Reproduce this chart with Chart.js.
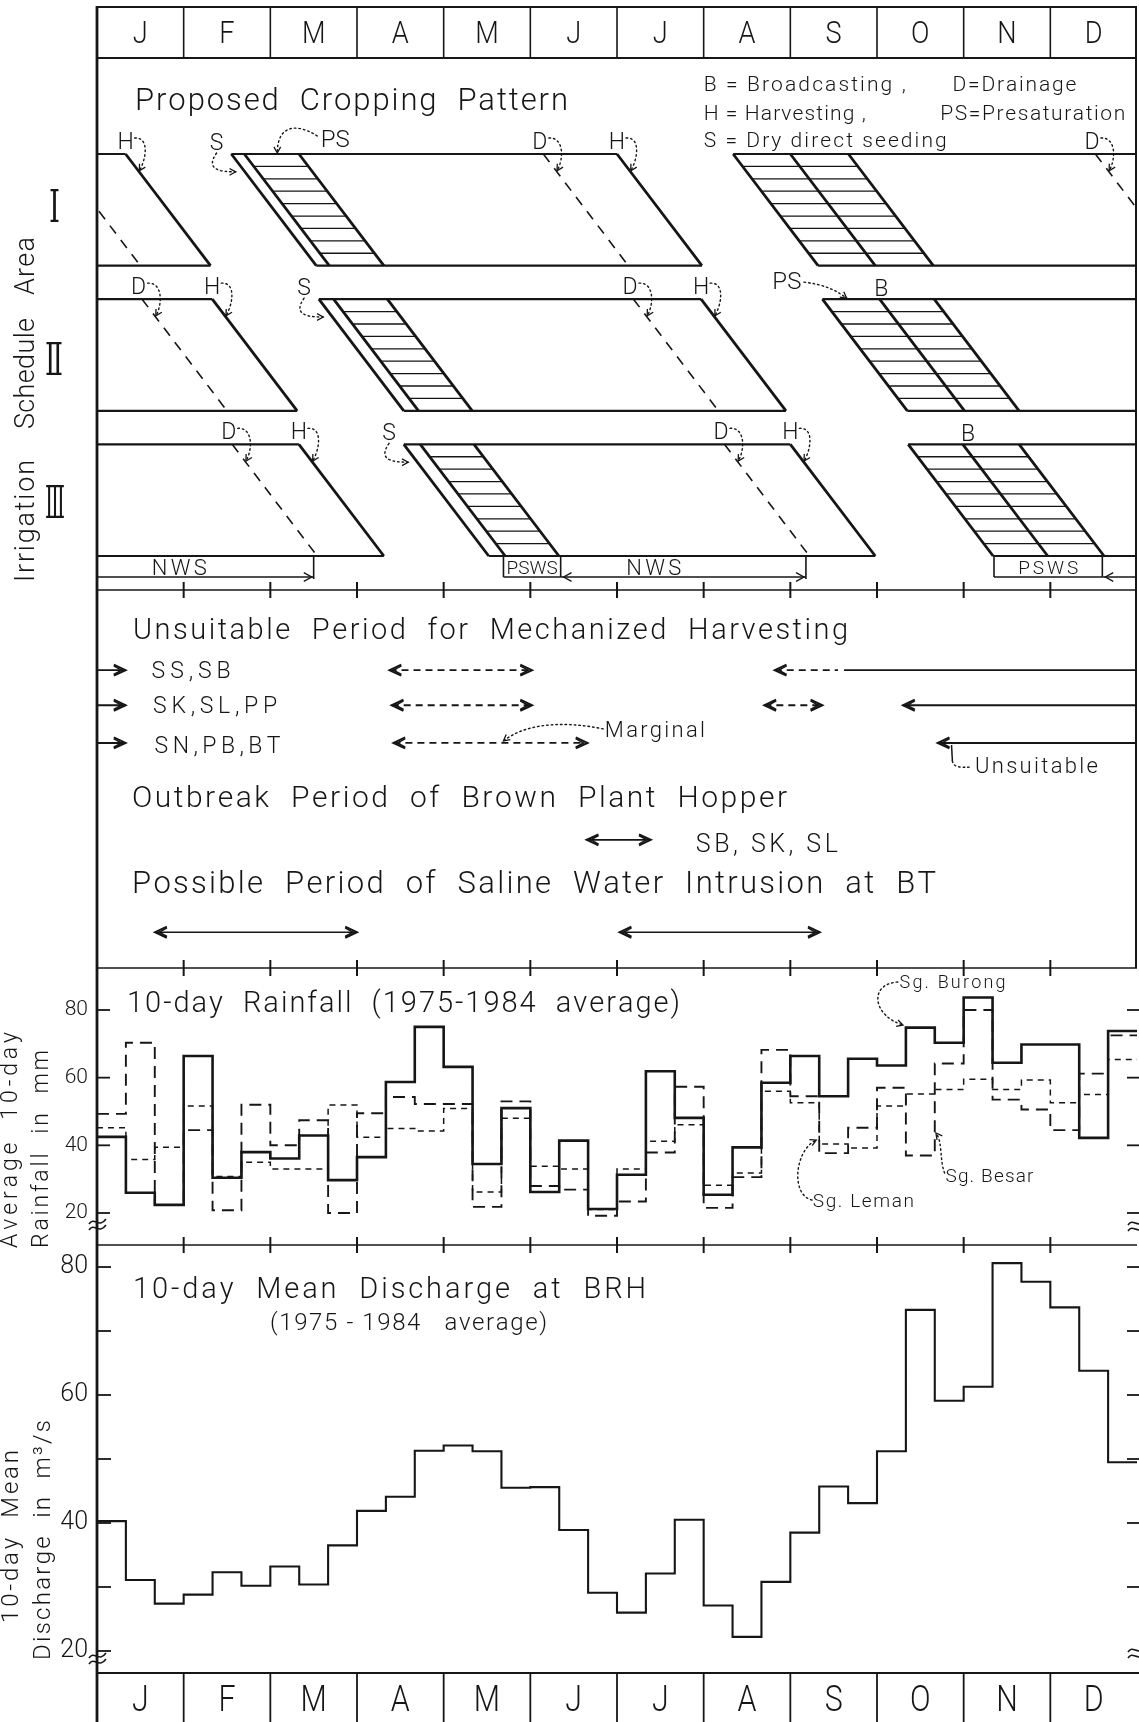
<!DOCTYPE html>
<html>
<head>
<meta charset="utf-8">
<title>Proposed Cropping Pattern, 10-day Rainfall and Discharge</title>
<script src="https://cdn.jsdelivr.net/npm/chart.js@4.4.1/dist/chart.umd.min.js"></script>
<style>
  html, body { margin: 0; padding: 0; background: #ffffff; }
  #page { position: relative; width: 1139px; height: 1722px; overflow: hidden; background: #ffffff; }
  #page canvas { position: absolute; left: 0; top: 0; }
</style>
</head>
<body>
<div id="page">
  <canvas id="cropCanvas" width="1139" height="1722"></canvas>
  <canvas id="textCanvas" width="1139" height="1722"></canvas>
  <canvas id="rainCanvas" width="1139" height="1722"></canvas>
  <canvas id="dischargeCanvas" width="1139" height="1722"></canvas>
</div>
<script>
// ================= DATA =================
const monthLabels = ['J','F','M','A','M','J','J','A','S','O','N','D'];

// 10-day rainfall, 1975-1984 average (mm), 36 ten-day periods
const rainBurong = [42.5, 26.0, 22.4, 66.4, 30.4, 38.0, 36.1, 42.9, 29.7, 36.5, 58.7, 75.0,
                    63.2, 34.5, 51.0, 26.2, 41.4, 21.2, 31.3, 61.9, 48.1, 25.4, 39.4, 58.5,
                    66.4, 54.5, 65.6, 63.6, 74.8, 70.3, 83.7, 64.4, 69.8, 69.8, 42.2, 73.8];
const rainBesar  = [49.3, 70.3, 22.4, 44.5, 20.8, 52.0, 40.0, 47.4, 20.0, 49.5, 54.3, 52.2,
                    52.2, 21.8, 53.0, 28.0, 26.9, 19.2, 23.4, 37.9, 57.3, 21.5, 30.6, 68.2,
                    54.5, 37.7, 45.2, 57.0, 37.0, 64.2, 80.0, 53.5, 50.6, 44.5, 61.2, 72.5];
const rainLeman  = [45.2, 35.8, 39.4, 51.6, 30.8, 35.0, 33.0, 33.0, 51.9, 42.4, 45.0, 44.2,
                    50.9, 26.2, 48.0, 33.8, 33.0, 21.0, 33.0, 41.2, 46.1, 28.2, 31.8, 56.0,
                    52.6, 40.4, 39.2, 51.6, 55.2, 56.5, 59.5, 56.5, 59.3, 52.6, 55.0, 65.4];
// 10-day mean discharge at BRH (m3/s)
const discharge  = [40.3, 31.1, 27.4, 28.8, 32.3, 30.2, 33.2, 30.4, 36.5, 41.9, 44.1, 51.3,
                    52.1, 51.2, 45.5, 45.6, 38.9, 29.1, 26.0, 32.1, 40.5, 27.1, 22.2, 30.8,
                    38.5, 45.7, 43.1, 51.2, 73.3, 59.1, 61.3, 80.6, 77.7, 73.7, 63.8, 49.5];
const rainTicks = [20, 40, 60, 80];
const dischargeTicks = [20, 30, 40, 50, 60, 70, 80];
const dischargeTickLabels = ['20', '', '40', '', '60', '', '80'];

// Proposed cropping pattern (month positions on the top edge of each band)
const cropArea      = ['I', 'I', 'II', 'II', 'III', 'III'];
const cropSeason    = [1, 2, 1, 2, 1, 2];
const cropSeeding   = [1.55, 7.34, 2.56, 8.37, 3.54, 9.36];
const cropSecond    = [1.70, 8.00, 2.73, 9.03, 3.73, 9.99];
const cropHatchFrom = [1.70, 7.34, 2.73, 8.37, 3.73, 9.36];
const cropHatchTo   = [2.33, 8.67, 3.35, 9.66, 4.35, 10.64];
const cropDrainage  = [5.15, 11.52, 6.19, 12.52, 7.24, 13.56];
const cropHarvest   = [6.00, 12.33, 6.97, 13.33, 8.00, 14.33];
const cropNotes = [
  {text: 'PS', crop: 0, at: 2.75, to: 2.08},
  {text: 'PS', crop: 3, at: 7.96, to: 8.65},
  {text: 'B',  crop: 3, at: 9.05},
  {text: 'B',  crop: 5, at: 10.05}
];
const supplyKind = ['NWS', 'PSWS', 'NWS', 'PSWS', 'NWS'];
const supplyFrom = [-0.40, 4.69, 5.35, 10.35, 11.60];
const supplyTo   = [ 2.50, 5.35, 8.18, 11.60, 14.00];

// Unsuitable period for mechanized harvesting
const harvestStations = ['SS,SB', 'SK,SL,PP', 'SN,PB,BT'];
const periodStation = [0, 0, 0, 0, 1, 1, 1, 1, 2, 2, 2];
const periodFrom  = [0.00, 3.375, 7.82, 8.62, 0.00, 3.40, 7.70, 9.30, 0.00, 3.42, 9.70];
const periodTo    = [0.33, 5.02, 8.55, 12.5, 0.33, 5.02, 8.37, 12.5, 0.33, 5.66, 12.5];
const periodKind  = ['U', 'M', 'M', 'U', 'U', 'M', 'M', 'U', 'U', 'M', 'U'];
const periodHeads = ['R', 'B', 'L', '', 'R', 'B', 'B', 'L', 'R', 'B', 'L'];
const hopperFrom = [5.65], hopperTo = [6.39];
const salineFrom = [0.67, 6.03], salineTo = [3.00, 8.34];

// ================= LAYOUT / STYLE =================
const W = 1139, H = 1722;
const PLOT_L = 97, PLOT_R = 1137;
const INK = '#161616';
const FONT = 'Roboto, Lato, "Liberation Sans", "DejaVu Sans", sans-serif';
const SLANT = 0.98;
const ROW_TOP = {I: 0, II: 1.3, III: 2.6};
const STATION_LEVEL = [2.10, 3.03, 4.03];
const HOPPER_LEVEL = 6.6, SALINE_LEVEL = 9.05;

// ================= HELPERS =================
function drawText(ctx, s, x, y, size, o = {}) {
  ctx.save();
  ctx.font = `${o.weight || 300} ${size}px ${o.family || FONT}`;
  ctx.fillStyle = INK;
  ctx.textBaseline = 'alphabetic';
  ctx.textAlign = 'left';
  const chars = Array.from(s);
  const ws = chars.map(c => ctx.measureText(c).width);
  const nat = ws.reduce((a, b) => a + b, 0);
  let sx = o.sx || 1, gap = 0;
  if (o.width) {
    if (nat * sx <= o.width && chars.length > 1) gap = (o.width - nat * sx) / (chars.length - 1);
    else sx = o.width / nat;
  }
  const total = nat * sx + gap * (chars.length - 1);
  let cx = x;
  if (o.align === 'center') cx -= total / 2;
  if (o.align === 'right') cx -= total;
  chars.forEach((c, i) => {
    ctx.save(); ctx.translate(cx, y); ctx.scale(sx, 1); ctx.fillText(c, 0, 0); ctx.restore();
    cx += ws[i] * sx + gap;
  });
  ctx.restore();
}
function drawRotText(ctx, s, x, yBottom, size, o) {
  ctx.save(); ctx.translate(x, yBottom); ctx.rotate(-Math.PI / 2);
  drawText(ctx, s, 0, 0, size, o); ctx.restore();
}
function seg(ctx, x1, y1, x2, y2, w = 2, dash = []) {
  ctx.save(); ctx.strokeStyle = INK; ctx.lineWidth = w; ctx.setLineDash(dash);
  ctx.beginPath(); ctx.moveTo(x1, y1); ctx.lineTo(x2, y2); ctx.stroke(); ctx.restore();
}
function head(ctx, x, y, ang, len = 12, spread = 0.42, w = 1.9) {
  ctx.save(); ctx.strokeStyle = INK; ctx.lineWidth = w; ctx.setLineDash([]);
  ctx.beginPath();
  ctx.moveTo(x - len * Math.cos(ang - spread), y - len * Math.sin(ang - spread));
  ctx.lineTo(x, y);
  ctx.lineTo(x - len * Math.cos(ang + spread), y - len * Math.sin(ang + spread));
  ctx.stroke(); ctx.restore();
}
function bigHead(ctx, x, y, ang) {
  head(ctx, x, y, ang, 13, 0.44, 2);
  head(ctx, x - 4 * Math.cos(ang), y - 4 * Math.sin(ang), ang, 9, 0.5, 1.6);
}
function dotted(ctx, p, withHead = true, w = 1.4) {
  ctx.save(); ctx.strokeStyle = INK; ctx.lineWidth = w; ctx.setLineDash([1.6, 3]); ctx.lineCap = 'round';
  ctx.beginPath(); ctx.moveTo(p[0], p[1]); ctx.bezierCurveTo(p[2], p[3], p[4], p[5], p[6], p[7]); ctx.stroke();
  ctx.restore();
  if (withHead) head(ctx, p[6], p[7], Math.atan2(p[7] - p[5], p[6] - p[4]), 7, 0.5, 1.3);
}
function monthSep(ctx, xs, y, tick = 8) {
  seg(ctx, PLOT_L, y, PLOT_R, y, 1.6);
  for (let m = 1; m < 12; m++) seg(ctx, xs(m), y - tick, xs(m), y + tick, 2);
}
function breakMark(ctx, x, y) {
  ctx.save(); ctx.strokeStyle = INK; ctx.lineWidth = 1.6;
  for (const d of [0, 6]) {
    ctx.beginPath(); ctx.moveTo(x, y + d + 3);
    ctx.bezierCurveTo(x + 5, y + d - 5, x + 10, y + d + 8, x + 17, y + d - 2);
    ctx.stroke();
  }
  ctx.restore();
}
function gapData(segs) {
  const d = [];
  segs.forEach(s => { d.push({x: s[0], y: s[1]}, {x: s[2], y: s[3]}, {x: s[2], y: null}); });
  return d;
}
function lineDs(label, segs, w, dash = []) {
  return {label, data: gapData(segs), borderColor: INK, borderWidth: w, borderDash: dash,
          pointRadius: 0, fill: false, spanGaps: false, tension: 0, borderCapStyle: 'butt'};
}
const stepData = vals => vals.map((v, i) => ({x: i / 3, y: v})).concat([{x: 12, y: vals[vals.length - 1]}]);
const baseOpts = {responsive: false, animation: false, devicePixelRatio: 1, events: [],
                  plugins: {legend: {display: false}, tooltip: {enabled: false}}};

// ================= CROPPING PATTERN =================
const thick = [], edges = [], hatch = [], drain = [];
cropArea.forEach((a, i) => {
  const t = ROW_TOP[a], b = t + 1;
  const shifts = cropHarvest[i] > 12 ? [0, -12] : [0];
  shifts.forEach(s => {
    [cropSeeding[i], cropSecond[i], cropHatchTo[i], cropHarvest[i]].forEach(x => thick.push([x + s, t, x + s + SLANT, b]));
    edges.push([cropSeeding[i] + s, t, cropHarvest[i] + s, t]);
    edges.push([cropSeeding[i] + s + SLANT, b, cropHarvest[i] + s + SLANT, b]);
    drain.push([cropDrainage[i] + s, t, cropDrainage[i] + s + SLANT, b]);
    for (let k = 1; k <= 8; k++) {
      const f = k / 9;
      hatch.push([cropHatchFrom[i] + s + f * SLANT, t + f, cropHatchTo[i] + s + f * SLANT, t + f]);
    }
  });
});

const cropDecor = {
  id: 'cropDecor',
  afterDraw(chart) {
    const ctx = chart.ctx;
    const xs = v => chart.scales.x.getPixelForValue(v), ys = v => chart.scales.y.getPixelForValue(v);
    // frame
    seg(ctx, PLOT_L, 6, PLOT_L, H, 2.8);
    seg(ctx, 1136, 6, 1136, 968, 2);
    // header month row
    seg(ctx, PLOT_L, 7, PLOT_R, 7, 1.8);
    seg(ctx, PLOT_L, 58, PLOT_R, 58, 2);
    for (let m = 1; m < 12; m++) seg(ctx, xs(m), 7, xs(m), 58, 1.6);
    monthLabels.forEach((l, i) => drawText(ctx, l, xs(i + 0.5), 43, 32, {align: 'center', sx: 0.85}));
    // titles / legend
    drawText(ctx, 'Proposed  Cropping  Pattern', 135, 110, 31, {width: 433});
    drawText(ctx, 'B = Broadcasting ,', xs(7.0), 91, 21, {width: 202});
    drawText(ctx, 'D=Drainage', xs(9.87), 91, 21, {width: 124});
    drawText(ctx, 'H = Harvesting ,', xs(7.0), 120, 21, {width: 162});
    drawText(ctx, 'PS=Presaturation', xs(9.73), 120, 21, {width: 185});
    drawText(ctx, 'S = Dry direct seeding', xs(7.0), 147, 21, {width: 243});
    // rotated axis label and area numerals
    drawRotText(ctx, 'Irrigation', 34, 582, 27, {width: 122});
    drawRotText(ctx, 'Schedule', 34, 429, 27, {width: 111});
    drawRotText(ctx, 'Area', 34, 295, 27, {width: 58});
    const rom = {I: 'Ⅰ', II: 'Ⅱ', III: 'Ⅲ'};
    const romFam = '"DejaVu Serif", "DejaVu Sans", "Noto Sans CJK JP", serif';
    drawText(ctx, rom.I, 54.5, 222, 44, {align: 'center', width: 11, family: romFam, weight: 400});
    drawText(ctx, rom.II, 54, 375, 44, {align: 'center', width: 18, family: romFam, weight: 400});
    drawText(ctx, rom.III, 55, 518, 44, {align: 'center', width: 20, family: romFam, weight: 400});
    // D / H / S labels with dotted pointers
    const wrap = x => (x > 12 ? x - 12 : x);
    cropArea.forEach((a, i) => {
      const t = ROW_TOP[a], topPx = ys(t);
      const lab = (txt, x, lineX) => {
        const cx = xs(x), base = topPx - 5;
        drawText(ctx, txt, cx, base, 23, {align: 'center'});
        const ex = xs(lineX + 0.15 * SLANT), ey = ys(t + 0.15);
        dotted(ctx, [cx + 9, base - 11, cx + 24, base - 12, ex + 8, ey - 12, ex + 1, ey]);
      };
      const d = wrap(cropDrainage[i]), h = wrap(cropHarvest[i]);
      lab('D', d - 0.04, d);
      lab('H', h, h);
      if (cropSeason[i] === 1) {
        const cx = xs(cropSeeding[i] - 0.17), base = topPx - 4;
        drawText(ctx, 'S', cx, base, 23, {align: 'center'});
        const ex = xs(cropSeeding[i] + 0.05), ey = ys(t + 0.16);
        dotted(ctx, [cx, base + 3, cx - 12, topPx + 16, cx + 4, ey, ex, ey]);
      }
    });
    cropNotes.forEach(n => {
      const t = ROW_TOP[cropArea[n.crop]], topPx = ys(t);
      if (n.text === 'B') {
        drawText(ctx, 'B', xs(n.at), topPx - 3, 23, {align: 'center'});
      } else if (n.to < n.at) {
        drawText(ctx, 'PS', xs(n.at), topPx - 7, 24, {align: 'center'});
        dotted(ctx, [xs(n.at) - 18, topPx - 18, xs(n.at) - 40, topPx - 32, xs(n.to), topPx - 28, xs(n.to), topPx - 1]);
      } else {
        drawText(ctx, 'PS', xs(n.at), topPx - 10, 24, {align: 'center'});
        dotted(ctx, [xs(n.at) + 17, topPx - 17, xs(n.at) + 35, topPx - 15, xs(n.to) - 12, topPx - 10, xs(n.to), topPx - 1]);
      }
    });
    // water supply brackets
    const y0 = ys(3.6), y1 = y0 + 21;
    supplyKind.forEach((k, i) => {
      const a = Math.max(supplyFrom[i], 0), b = Math.min(supplyTo[i], 12);
      const xa = xs(a), xb = xs(b);
      if (k === 'PSWS') {
        seg(ctx, xa, y0, xa, y1, 1.6); seg(ctx, xb, y0, xb, y1, 1.6); seg(ctx, xa, y1, xb, y1, 1.4);
        drawText(ctx, 'PSWS', (xa + xb) / 2, y1 - 3, 19, {align: 'center', width: Math.min(60, xb - xa - 6)});
      } else {
        seg(ctx, xa, y1, xb, y1, 1.4);
        if (supplyFrom[i] >= 0) head(ctx, xa + 3, y1, Math.PI, 9, 0.5, 1.4);
        if (supplyTo[i] <= 12) { head(ctx, xb - 2, y1, 0, 9, 0.5, 1.4); seg(ctx, xb, y0, xb, y1 + 2, 1.6); }
        if (b - a > 1) drawText(ctx, 'NWS', xs(a + 0.38 * (b - a)), y1 - 2, 22, {align: 'center', width: 55});
      }
    });
    monthSep(ctx, xs, 590);
  }
};

new Chart(document.getElementById('cropCanvas'), {
  type: 'line',
  data: {datasets: [
    lineDs('Slanted boundaries', thick, 2.8),
    lineDs('Band edges', edges, 2.2),
    lineDs('Hatching', hatch, 1.3),
    lineDs('Drainage', drain, 1.6, [10, 8])
  ]},
  options: Object.assign({}, baseOpts, {
    layout: {padding: {left: PLOT_L, right: W - PLOT_R, top: 42.33, bottom: H - 600.67}},
    scales: {
      x: {type: 'linear', min: 0, max: 12, display: false},
      y: {type: 'linear', min: -1, max: 4, reverse: true, display: false}
    }
  }),
  plugins: [cropDecor]
});

// ================= TEXT PANEL (periods) =================
const margSegs = [], unsSegs = [];
periodFrom.forEach((f, i) => {
  const y = STATION_LEVEL[periodStation[i]];
  (periodKind[i] === 'M' ? margSegs : unsSegs).push([f, y, periodTo[i], y]);
});
const hopSegs = hopperFrom.map((f, i) => [f, HOPPER_LEVEL, hopperTo[i], HOPPER_LEVEL]);
const salSegs = salineFrom.map((f, i) => [f, SALINE_LEVEL, salineTo[i], SALINE_LEVEL]);

const textDecor = {
  id: 'textDecor',
  afterDraw(chart) {
    const ctx = chart.ctx;
    const xs = v => chart.scales.x.getPixelForValue(v), ys = v => chart.scales.y.getPixelForValue(v);
    drawText(ctx, 'Unsuitable  Period  for  Mechanized  Harvesting', 133, 639, 29, {width: 715});
    const base = [678, 713, 753], wid = [79, 124, 126];
    harvestStations.forEach((s, j) => drawText(ctx, s, xs(0.63) + j * 1.5, base[j], 23, {width: wid[j]}));
    periodFrom.forEach((f, i) => {
      const y = ys(STATION_LEVEL[periodStation[i]]), h = periodHeads[i];
      if (h === 'L' || h === 'B') bigHead(ctx, xs(f), y, Math.PI);
      if (h === 'R' || h === 'B') bigHead(ctx, xs(periodTo[i]), y, 0);
    });
    // marginal / unsuitable notes
    const ySN = ys(STATION_LEVEL[2]);
    dotted(ctx, [xs(5.84), ySN - 14, xs(5.4), ySN - 22, xs(4.95), ySN - 20, xs(4.69), ySN - 2]);
    drawText(ctx, 'Marginal', xs(5.86), 737, 22, {width: 100});
    seg(ctx, xs(9.86), ySN + 2, xs(9.87), ySN + 18, 1.5);
    dotted(ctx, [xs(9.87), ySN + 18, xs(9.88), ySN + 24, xs(9.95), ySN + 25, xs(10.1), ySN + 24], false);
    drawText(ctx, 'Unsuitable', xs(10.13), 773, 22, {width: 123});
    // brown plant hopper
    drawText(ctx, 'Outbreak  Period  of  Brown  Plant  Hopper', 132, 807, 30, {width: 655});
    hopperFrom.forEach((f, i) => { bigHead(ctx, xs(f), ys(HOPPER_LEVEL), Math.PI); bigHead(ctx, xs(hopperTo[i]), ys(HOPPER_LEVEL), 0); });
    drawText(ctx, 'SB, SK, SL', xs(6.91), 852, 25, {width: 142});
    // saline water
    drawText(ctx, 'Possible  Period  of  Saline  Water  Intrusion  at  BT', 132, 893, 31, {width: 804});
    salineFrom.forEach((f, i) => { bigHead(ctx, xs(f), ys(SALINE_LEVEL), Math.PI); bigHead(ctx, xs(salineTo[i]), ys(SALINE_LEVEL), 0); });
  }
};

new Chart(document.getElementById('textCanvas'), {
  type: 'line',
  data: {datasets: [
    lineDs('Marginal', margSegs, 1.8, [7, 5]),
    lineDs('Unsuitable', unsSegs, 1.9),
    lineDs('Brown plant hopper', hopSegs, 1.8),
    lineDs('Saline water intrusion', salSegs, 1.6)
  ]},
  options: Object.assign({}, baseOpts, {
    layout: {padding: {left: PLOT_L, right: W - PLOT_R, top: 591, bottom: H - 968}},
    scales: {
      x: {type: 'linear', min: 0, max: 12, display: false},
      y: {type: 'linear', min: 0, max: 10, reverse: true, display: false}
    }
  }),
  plugins: [textDecor]
});

// ================= RAINFALL =================
const rainDecor = {
  id: 'rainDecor',
  afterDraw(chart) {
    const ctx = chart.ctx;
    const xs = v => chart.scales.x.getPixelForValue(v), ys = v => chart.scales.y.getPixelForValue(v);
    monthSep(ctx, xs, 968);
    monthSep(ctx, xs, 1245);
    rainTicks.forEach(v => { seg(ctx, PLOT_L, ys(v), PLOT_L + 13, ys(v), 1.8); seg(ctx, W - 12, ys(v), W, ys(v), 1.8); });
    breakMark(ctx, PLOT_L - 8, 1221);
    breakMark(ctx, W - 11, 1222);
    drawText(ctx, '10-day  Rainfall  (1975-1984  average)', 127, 1012, 29, {width: 553});
    drawText(ctx, 'Sg. Burong', xs(9.26), 988, 18, {width: 106});
    dotted(ctx, [xs(9.24), 982, xs(8.9), 984, xs(8.95), 1016, xs(9.3), 1025]);
    drawText(ctx, 'Sg. Leman', xs(8.26), 1207, 19, {width: 101});
    dotted(ctx, [xs(8.25), 1200, xs(8.0), 1195, xs(8.05), 1150, xs(8.3), 1140]);
    drawText(ctx, 'Sg. Besar', xs(9.79), 1182, 19, {width: 88});
    dotted(ctx, [xs(9.78), 1173, xs(9.72), 1160, xs(9.76), 1142, xs(9.68), 1133]);
    drawRotText(ctx, 'Average  10-day', 17, 1248, 23, {width: 216});
    drawRotText(ctx, 'Rainfall  in  mm', 48, 1248, 23, {width: 198});
  }
};

new Chart(document.getElementById('rainCanvas'), {
  type: 'line',
  data: {datasets: [
    {label: 'Sg. Burong', data: stepData(rainBurong), stepped: true, borderColor: INK, borderWidth: 2.6,
     pointRadius: 0, fill: false},
    {label: 'Sg. Besar', data: stepData(rainBesar), stepped: true, borderColor: INK, borderWidth: 1.9,
     borderDash: [12, 7], pointRadius: 0, fill: false},
    {label: 'Sg. Leman', data: stepData(rainLeman), stepped: true, borderColor: INK, borderWidth: 1.5,
     borderDash: [6, 5], pointRadius: 0, fill: false}
  ]},
  options: Object.assign({}, baseOpts, {
    layout: {padding: {left: PLOT_L - 46, right: W - PLOT_R, top: 968, bottom: H - 1245}},
    scales: {
      x: {type: 'linear', min: 0, max: 12, display: false},
      y: {type: 'linear', min: 10.54, max: 92.41, position: 'left',
          afterFit: s => { s.width = 46; },
          afterBuildTicks: s => { s.ticks = rainTicks.map(v => ({value: v})); },
          grid: {display: false, drawTicks: false}, border: {display: false},
          ticks: {color: INK, font: {family: FONT, size: 21, weight: 300}, padding: 9, autoSkip: false}}
    }
  }),
  plugins: [rainDecor]
});

// ================= DISCHARGE =================
const dischargeDecor = {
  id: 'dischargeDecor',
  afterDraw(chart) {
    const ctx = chart.ctx;
    const xs = v => chart.scales.x.getPixelForValue(v), ys = v => chart.scales.y.getPixelForValue(v);
    dischargeTicks.forEach(v => {
      seg(ctx, PLOT_L, ys(v), PLOT_L + 14, ys(v), 1.8);
      if (v > 20) seg(ctx, W - 12, ys(v), W, ys(v), 1.8);
    });
    breakMark(ctx, PLOT_L - 8, 1655);
    breakMark(ctx, W - 11, 1649);
    drawText(ctx, '10-day  Mean  Discharge  at  BRH', 133, 1298, 29, {width: 513});
    drawText(ctx, '(1975 - 1984   average)', 270, 1330, 24, {width: 277});
    // bottom month row
    seg(ctx, PLOT_L, 1673, W, 1673, 2);
    for (let m = 1; m < 12; m++) seg(ctx, xs(m), 1673, xs(m), H, 1.8);
    monthLabels.forEach((l, i) => drawText(ctx, l, xs(i + 0.5), 1711, 37, {align: 'center', sx: 0.82}));
    drawRotText(ctx, '10-day  Mean', 18, 1623, 24, {width: 173});
    drawRotText(ctx, 'Discharge  in  m³/s', 50, 1660, 24, {width: 240});
  }
};

new Chart(document.getElementById('dischargeCanvas'), {
  type: 'line',
  data: {datasets: [
    {label: 'Discharge at BRH', data: stepData(discharge), stepped: true, borderColor: INK, borderWidth: 2.1,
     pointRadius: 0, fill: false}
  ]},
  options: Object.assign({}, baseOpts, {
    layout: {padding: {left: PLOT_L - 50, right: W - PLOT_R, top: 1245, bottom: H - 1673}},
    scales: {
      x: {type: 'linear', min: 0, max: 12, display: false},
      y: {type: 'linear', min: 16.56, max: 83.44, position: 'left',
          afterFit: s => { s.width = 50; },
          afterBuildTicks: s => { s.ticks = dischargeTicks.map(v => ({value: v})); },
          grid: {display: false, drawTicks: false}, border: {display: false},
          ticks: {color: INK, font: {family: FONT, size: 25, weight: 300}, padding: 9, autoSkip: false,
                  callback: v => dischargeTickLabels[dischargeTicks.indexOf(v)]}}
    }
  }),
  plugins: [dischargeDecor]
});
</script>
</body>
</html>
